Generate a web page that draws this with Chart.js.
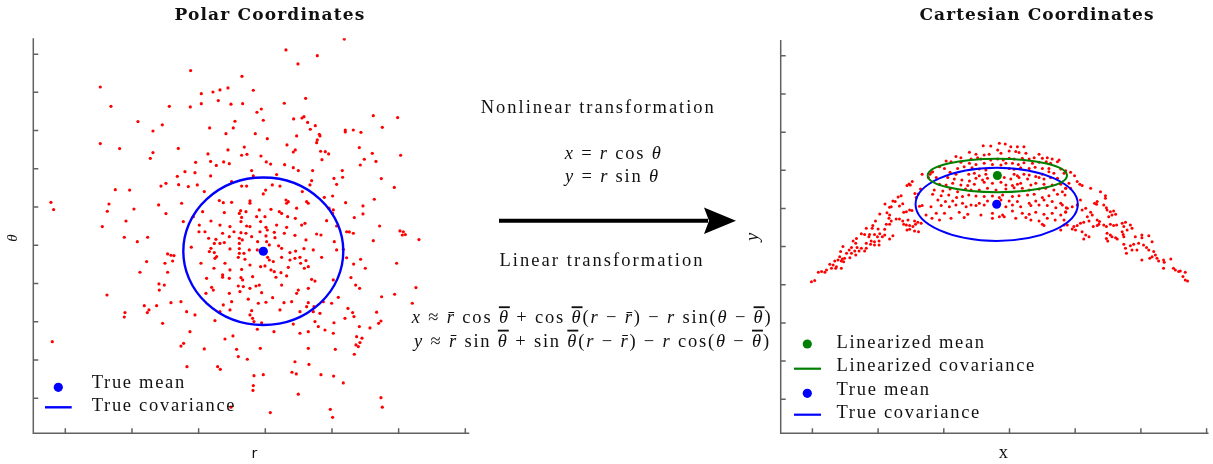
<!DOCTYPE html>
<html>
<head>
<meta charset="utf-8">
<script src="https://cdn.jsdelivr.net/npm/chart.js@4.4.1/dist/chart.umd.min.js"></script>
<style>
  html, body { margin: 0; padding: 0; background: #fff; }
  #page { position: relative; width: 1213px; height: 464px; overflow: hidden; }
  .panel { position: absolute; top: 0; }
  #polarBox { left: 0; }
  #cartBox { left: 760px; }
  #notes { position: absolute; left: 0; top: 0; }
  #notes .v { font-style: italic; }
  #notes .bar { font-style: italic; text-decoration: overline; }
</style>
</head>
<body>
<div id="page">
  <div class="panel" id="polarBox"><canvas id="polarChart" width="480" height="464"></canvas></div>
  <div class="panel" id="cartBox"><canvas id="cartChart" width="453" height="464"></canvas></div>
  <svg id="notes" width="1213" height="464" font-family="'Liberation Serif', serif" font-size="18.5" fill="#111">
    <text x="270" y="20" text-anchor="middle" font-family="'DejaVu Serif', serif" font-weight="bold" font-size="17" data-w="190">Polar Coordinates</text>
    <text x="1037" y="20" text-anchor="middle" font-family="'DejaVu Serif', serif" font-weight="bold" font-size="17" data-w="234">Cartesian Coordinates</text>

    <text x="598.3" y="112.7" text-anchor="middle" data-w="233">Nonlinear transformation</text>
    <text x="613.7" y="158.7" text-anchor="middle" data-w="96"><tspan class="v">x</tspan> = <tspan class="v">r</tspan> cos <tspan class="v">θ</tspan></text>
    <text x="612.5" y="182" text-anchor="middle" data-w="93"><tspan class="v">y</tspan> = <tspan class="v">r</tspan> sin <tspan class="v">θ</tspan></text>

    <line x1="499" y1="220.7" x2="708" y2="220.7" stroke="#000" stroke-width="4"/>
    <polygon points="704,207.5 736,220.7 704,234 709,220.7" fill="#000"/>

    <text x="602" y="265.7" text-anchor="middle" data-w="203">Linear transformation</text>
    <text x="592.2" y="323.3" text-anchor="middle" data-w="359"><tspan class="v">x</tspan> ≈ <tspan class="v">r&#x304;</tspan> cos <tspan class="bar">θ</tspan> + cos <tspan class="bar">θ</tspan>(<tspan class="v">r</tspan> − <tspan class="v">r&#x304;</tspan>) − <tspan class="v">r</tspan> sin(<tspan class="v">θ</tspan> − <tspan class="bar">θ</tspan>)</text>
    <text x="592.5" y="346.7" text-anchor="middle" data-w="355"><tspan class="v">y</tspan> ≈ <tspan class="v">r&#x304;</tspan> sin <tspan class="bar">θ</tspan> + sin <tspan class="bar">θ</tspan>(<tspan class="v">r</tspan> − <tspan class="v">r&#x304;</tspan>) − <tspan class="v">r</tspan> cos(<tspan class="v">θ</tspan> − <tspan class="bar">θ</tspan>)</text>

    <text x="254.3" y="458" text-anchor="middle" font-family="'DejaVu Sans', sans-serif" font-size="14">r</text>
    <text transform="translate(16.5,238) rotate(-90)" text-anchor="middle" font-style="italic" font-size="15">θ</text>
    <text x="1003.3" y="458" text-anchor="middle">x</text>
    <text transform="translate(758,237) rotate(-90)" text-anchor="middle" font-style="italic">y</text>
  </svg>
</div>

<script>
// Samples in polar coordinates (r, theta)
const polarR = [
  0.759, 0.789, 0.959, 1.099, 1.142, 1.231, 0.836, 0.964, 1.034, 0.899,
  1.139, 1.206, 1.232, 1.214, 0.769, 0.796, 0.929, 0.944, 1.021, 1.044,
  1.134, 0.817, 1.001, 0.994, 1.111, 1.177, 1.202, 1.062, 1.069, 1.064,
  0.749, 0.862, 0.874, 0.899, 0.954, 0.954, 1.094, 1.124, 1.129, 1.241,
  0.926, 0.922, 0.942, 0.982, 1.017, 1.042, 1.049, 1.191, 1.204, 1.202,
  0.812, 0.877, 0.784, 0.929, 0.974, 0.999, 0.927, 0.986, 1.067, 1.090,
  1.184, 0.754, 0.837, 0.864, 0.894, 0.944, 0.954, 1.034, 1.002, 1.006,
  1.064, 1.109, 1.119, 1.214, 0.802, 0.801, 0.819, 0.872, 0.906, 0.927,
  0.942, 0.984, 1.027, 1.057, 1.154, 1.167, 1.244, 0.830, 0.852, 0.892,
  0.922, 0.931, 0.959, 0.977, 1.002, 1.029, 1.089, 1.122, 1.207, 0.847,
  0.864, 0.877, 0.922, 1.004, 1.012, 1.040, 0.778, 0.837, 0.894, 0.922,
  0.952, 0.976, 1.049, 1.091, 1.116, 1.144, 1.214, 1.234, 0.832, 0.847,
  0.922, 0.936, 1.074, 1.007, 1.012, 0.849, 0.854, 0.919, 0.939, 1.024,
  1.049, 1.074, 1.089, 1.104, 1.122, 1.169, 1.244, 0.807, 0.879, 0.954,
  0.986, 0.999, 1.106, 1.129, 1.117, 0.846, 0.894, 0.929, 1.017, 1.069,
  1.027, 1.047, 0.872, 0.872, 0.824, 0.892, 0.927, 0.932, 0.962, 1.032,
  1.064, 1.139, 1.149, 1.204, 0.839, 0.844, 0.919, 0.934, 0.972, 0.982,
  1.049, 1.099, 1.094, 1.129, 0.822, 0.892, 0.924, 0.954, 0.989, 1.022,
  0.747, 0.874, 0.899, 0.949, 0.979, 1.002, 1.056, 1.079, 1.129, 1.124,
  1.146, 1.174, 1.199, 1.219, 0.764, 0.789, 0.864, 0.894, 0.959, 1.044,
  1.104, 1.144, 1.164, 0.954, 0.849, 0.962, 0.966, 0.989, 1.084, 1.149,
  1.159, 1.206, 1.239, 0.774, 0.976, 1.026, 1.104, 1.129, 1.179, 1.204,
  0.776, 0.930, 0.505, 0.808, 0.843, 0.864, 0.888, 0.537, 0.712, 0.775,
  0.808, 0.859, 0.897, 0.932, 0.618, 0.691, 0.909, 0.663, 0.833, 0.904,
  0.882, 0.505, 0.563, 0.663, 0.739, 0.888, 0.937, 0.655, 0.828, 0.929,
  0.945, 0.791, 0.836, 0.875, 0.892, 0.853, 0.736, 0.550, 0.593, 0.687,
  0.702, 0.740, 0.357, 0.365, 0.531, 0.606, 0.680, 0.526, 0.702, 0.582,
  0.511, 1.237, 1.062, 1.156, 1.098, 0.964, 1.057, 1.121, 0.975, 0.988,
  0.994, 1.085, 1.110, 1.116, 1.127, 1.150, 0.970, 1.006, 1.135, 1.094,
  1.162, 1.164, 1.065, 1.156, 1.154, 1.240, 1.240, 1.264, 1.287, 1.324,
  1.351, 1.397, 0.987, 1.003, 1.016, 1.058, 1.084, 1.090, 1.084, 1.166,
  1.180, 1.190, 1.170, 1.282, 1.297, 1.285, 1.321, 1.332, 1.406, 1.348,
  1.387, 1.327, 1.293, 1.293, 1.267, 1.343, 1.404, 1.414, 1.420, 1.411,
  1.461, 1.324, 1.264, 1.252, 1.394, 1.286, 1.300, 1.265, 1.257, 1.271,
  1.283, 1.452, 1.388, 1.349, 1.441, 1.248, 1.262, 1.266, 1.334, 1.347,
  1.340, 1.314, 1.282, 1.274, 1.290, 1.284, 1.272, 1.279, 1.267, 0.985,
  1.129, 1.210, 1.089, 1.131, 1.080, 1.093, 0.966, 0.994, 1.167, 1.205,
  1.234, 0.964, 0.963, 1.099, 1.347, 1.351, 1.015, 1.195, 1.202, 0.577,
  0.616, 0.647, 0.707, 0.717, 0.726, 0.644, 0.722, 0.699, 0.624, 0.707,
  0.681, 0.697, 0.682, 0.525, 0.637, 0.646, 0.651, 0.674, 0.579, 0.577,
  0.692, 0.717, 0.361, 0.747, 0.755, 0.817, 0.765, 0.857, 0.865, 0.879,
  0.903, 0.914, 0.919, 0.946, 0.897
];
const polarTheta = [
  1.985, 1.980, 1.991, 1.991, 1.991, 1.991, 1.963, 1.963, 1.970, 1.933,
  1.938, 1.950, 1.956, 1.919, 1.907, 1.916, 1.910, 1.910, 1.916, 1.910,
  1.916, 1.881, 1.889, 1.869, 1.881, 1.851, 1.858, 1.837, 1.828, 1.820,
  1.820, 1.834, 1.823, 1.825, 1.832, 1.820, 1.794, 1.828, 1.820, 1.823,
  1.781, 1.767, 1.776, 1.785, 1.788, 1.776, 1.767, 1.794, 1.785, 1.767,
  1.776, 1.771, 1.750, 1.746, 1.750, 1.750, 1.724, 1.724, 1.750, 1.741,
  1.729, 1.724, 1.727, 1.706, 1.698, 1.701, 1.698, 1.706, 1.694, 1.680,
  1.694, 1.706, 1.715, 1.701, 1.706, 1.671, 1.671, 1.663, 1.671, 1.666,
  1.663, 1.671, 1.668, 1.663, 1.659, 1.654, 1.671, 1.637, 1.631, 1.645,
  1.637, 1.628, 1.645, 1.619, 1.649, 1.640, 1.652, 1.628, 1.619, 1.610,
  1.610, 1.614, 1.610, 1.619, 1.602, 1.597, 1.590, 1.584, 1.581, 1.583,
  1.576, 1.576, 1.584, 1.570, 1.583, 1.576, 1.576, 1.579, 1.567, 1.562,
  1.558, 1.558, 1.562, 1.537, 1.523, 1.532, 1.541, 1.537, 1.527, 1.515,
  1.537, 1.523, 1.532, 1.537, 1.520, 1.537, 1.535, 1.506, 1.506, 1.497,
  1.488, 1.492, 1.506, 1.488, 1.480, 1.480, 1.471, 1.474, 1.471, 1.485,
  1.462, 1.457, 1.445, 1.433, 1.427, 1.427, 1.431, 1.419, 1.436, 1.433,
  1.440, 1.422, 1.413, 1.419, 1.380, 1.366, 1.387, 1.384, 1.387, 1.392,
  1.392, 1.366, 1.349, 1.375, 1.349, 1.349, 1.358, 1.375, 1.352, 1.326,
  1.305, 1.288, 1.305, 1.318, 1.297, 1.302, 1.300, 1.305, 1.300, 1.279,
  1.279, 1.305, 1.297, 1.328, 1.253, 1.236, 1.253, 1.262, 1.258, 1.262,
  1.253, 1.253, 1.244, 1.236, 1.206, 1.218, 1.201, 1.195, 1.188, 1.201,
  1.175, 1.195, 1.218, 1.148, 1.161, 1.148, 1.140, 1.148, 1.157, 1.140,
  2.514, 2.484, 2.428, 2.393, 2.402, 2.413, 2.423, 2.327, 2.327, 2.324,
  2.341, 2.357, 2.338, 2.341, 2.247, 2.230, 2.249, 2.198, 2.214, 2.214,
  2.184, 2.132, 2.106, 2.085, 2.107, 2.099, 2.114, 2.055, 2.078, 2.071,
  2.076, 2.034, 2.039, 2.036, 2.027, 2.018, 1.961, 1.891, 1.889, 1.910,
  1.924, 1.917, 1.825, 1.787, 1.816, 1.790, 1.811, 1.778, 1.766, 1.727,
  1.698, 2.679, 2.622, 2.592, 2.549, 2.411, 2.343, 2.369, 2.296, 2.313,
  2.254, 2.261, 2.266, 2.273, 2.243, 2.226, 2.184, 2.158, 2.207, 2.172,
  2.181, 2.172, 2.125, 2.151, 2.137, 2.203, 2.193, 2.203, 2.191, 2.278,
  2.217, 2.268, 2.067, 2.036, 2.025, 2.022, 2.006, 2.099, 2.088, 2.092,
  2.090, 2.078, 2.048, 2.111, 2.050, 2.020, 2.081, 2.039, 2.071, 1.949,
  1.903, 1.841, 1.806, 1.764, 1.745, 1.701, 1.675, 1.671, 1.656, 1.654,
  1.630, 1.624, 1.663, 1.670, 1.506, 1.527, 1.480, 1.502, 1.431, 1.392,
  1.375, 1.379, 1.344, 1.331, 1.297, 1.270, 1.248, 1.227, 1.250, 1.204,
  1.192, 1.168, 1.175, 1.122, 1.114, 1.091, 1.079, 1.070, 1.030, 1.061,
  1.061, 1.056, 0.991, 0.977, 0.936, 0.927, 0.918, 0.923, 0.923, 0.916,
  0.880, 0.866, 0.841, 0.821, 0.803, 0.753, 0.725, 0.742, 0.700, 1.642,
  1.619, 1.642, 1.555, 1.548, 1.546, 1.515, 1.518, 1.506, 1.459, 1.459,
  1.398, 1.392, 1.366, 1.340, 1.284, 1.248, 1.262, 1.284, 1.248, 1.225,
  1.192, 1.300, 1.096, 1.073, 1.087, 1.058, 0.965, 0.965, 0.951, 1.110,
  1.126, 1.056, 1.018, 1.004, 0.753
];
const polarRTicks = [0.4, 0.6, 0.8, 1.0, 1.2, 1.4, 1.6];
const polarThetaTicks = [0.8, 1.0, 1.2, 1.4, 1.6, 1.8, 2.0, 2.2, 2.4, 2.6];
const polarMean = [0.994, 1.569];
const polarCovRadii = [0.240, 0.386];

// The same samples after x = r cos(theta), y = r sin(theta)
const cartX = [
  -0.266, -0.242, -0.237, -0.247, -0.296, -0.306, -0.312, -0.302, -0.271, -0.288,
  -0.278, -0.284, -0.339, -0.330, -0.355, -0.348, -0.335, -0.325, -0.379, -0.365,
  -0.360, -0.274, -0.266, -0.395, -0.373, -0.365, -0.322, -0.314, -0.304, -0.297,
  -0.367, -0.360, -0.254, -0.408, -0.345, -0.335, -0.325, -0.309, -0.289, -0.279,
  -0.269, -0.416, -0.375, -0.365, -0.322, -0.314, -0.304, -0.294, -0.286, -0.436,
  -0.418, -0.400, -0.380, -0.312, -0.304, -0.289, -0.277, -0.451, -0.441, -0.426,
  -0.411, -0.395, -0.380, -0.355, -0.466, -0.428, -0.402, -0.387, -0.365, -0.476,
  -0.421, -0.411, -0.397, -0.468, -0.436, -0.423, -0.411, -0.397, -0.507, -0.481,
  -0.464, -0.451, -0.436, -0.488, -0.471, -0.458, -0.441, -0.514, -0.496, -0.481,
  -0.468, -0.517, -0.509, -0.502, -0.486, -0.532, -0.522, -0.512, -0.505, -0.547,
  -0.537, -0.527, -0.512, -0.557, -0.542, -0.529, -0.572, -0.562, -0.582, -0.593,
  -0.603,
  -0.031, -0.013, -0.080, -0.057, 0.004, 0.024, 0.044, -0.122, -0.102, -0.077,
  -0.062, -0.036, -0.026, -0.001, 0.019, 0.029, 0.050, 0.090, -0.163, -0.148,
  -0.117, -0.097, -0.087, -0.057, -0.036, -0.019, -0.001, 0.014, 0.039, 0.060,
  0.075, 0.100, 0.115, 0.130, 0.151, -0.193, -0.178, -0.148, -0.122, -0.102,
  -0.077, -0.052, -0.026, -0.011, 0.009, 0.027, 0.044, 0.070, 0.090, 0.112,
  0.125, 0.146, -0.213, -0.198, -0.158, -0.138, -0.114, -0.092, -0.072, -0.001,
  0.014, 0.034, 0.060, 0.078, 0.100, 0.120, 0.156, -0.234, -0.181, -0.163,
  -0.124, -0.107, -0.092, -0.072, 0.014, 0.024, 0.044, 0.060, 0.080, 0.100,
  0.120, 0.135, 0.166, -0.223, -0.188, -0.168, -0.145, -0.122, -0.102, -0.082,
  -0.067, -0.016, 0.004, 0.029, 0.055, 0.090, 0.105, 0.125, 0.146, -0.213,
  -0.193, -0.173, -0.148, -0.127, -0.107, -0.077, -0.052, -0.026, -0.011, 0.009,
  0.024, 0.034, 0.065, 0.080, 0.105, 0.130, 0.156, -0.229, -0.203, -0.181,
  -0.158, -0.134, -0.117, -0.092, -0.067, -0.041, -0.011, 0.014, 0.039, 0.060,
  0.090, 0.110, 0.135, 0.161, 0.171, -0.234, -0.208, -0.185, -0.161, -0.143,
  -0.124, -0.102, -0.077, -0.052, -0.031, -0.021, 0.009, 0.029, 0.055, 0.075,
  0.100, 0.120, 0.146, 0.169, -0.218, -0.195, -0.173, -0.143, -0.117, -0.092,
  -0.067, -0.026, -0.001, 0.024, 0.060, 0.080, 0.105, 0.130, 0.156, -0.239,
  -0.208, -0.183, -0.163, -0.132, -0.102, -0.077, -0.011, 0.009, 0.034, 0.065,
  0.090, 0.115, 0.141, 0.161, 0.173, -0.223, -0.198, -0.153, -0.127, -0.087,
  -0.052, -0.021, 0.009, 0.039, 0.060, 0.080, 0.105, 0.130, 0.156, 0.171,
  -0.236, -0.213, -0.178, -0.138, -0.052, -0.031, -0.016, 0.019, 0.050, 0.065,
  0.090, 0.115, 0.139, 0.166, 0.100, 0.105, 0.166, 0.156,
  0.171, 0.186, 0.198, 0.206, 0.214, 0.181, 0.171, 0.186, 0.221, 0.247,
  0.277, 0.292, 0.292, 0.267, 0.259, 0.265, 0.216, 0.206, 0.191, 0.176,
  0.171, 0.287, 0.295, 0.297, 0.307, 0.317, 0.312, 0.302, 0.323, 0.232,
  0.221, 0.247, 0.252, 0.237, 0.242, 0.226, 0.216, 0.206, 0.196, 0.191,
  0.201, 0.176, 0.267, 0.274, 0.272, 0.267, 0.255, 0.287, 0.295, 0.307,
  0.317, 0.326, 0.343, 0.353, 0.348, 0.368, 0.373, 0.358, 0.297, 0.307,
  0.312, 0.323, 0.328, 0.295, 0.299, 0.343, 0.346, 0.348, 0.221, 0.232,
  0.242, 0.226, 0.383, 0.403, 0.403, 0.424, 0.434, 0.393, 0.378, 0.368,
  0.353, 0.348, 0.356, 0.373, 0.388, 0.408, 0.417, 0.424, 0.439, 0.444,
  0.434, 0.427, 0.449, 0.454, 0.469, 0.471, 0.491, 0.403, 0.469, 0.499,
  0.505, 0.515, 0.520, 0.535, 0.528, 0.535, 0.542
];
const cartY = [
  0.979, 0.979, 0.990, 0.962, 0.941, 0.928, 0.920, 0.923, 0.902, 0.879,
  0.876, 0.857, 0.860, 0.867, 0.839, 0.836, 0.813, 0.825, 0.823, 0.806,
  0.809, 0.811, 0.815, 0.771, 0.778, 0.766, 0.780, 0.783, 0.792, 0.789,
  0.748, 0.734, 0.766, 0.734, 0.745, 0.745, 0.734, 0.740, 0.734, 0.727,
  0.722, 0.710, 0.717, 0.717, 0.717, 0.713, 0.710, 0.705, 0.717, 0.696,
  0.696, 0.692, 0.691, 0.687, 0.691, 0.682, 0.678, 0.668, 0.664, 0.664,
  0.664, 0.668, 0.661, 0.657, 0.643, 0.652, 0.652, 0.652, 0.640, 0.630,
  0.630, 0.626, 0.630, 0.617, 0.617, 0.612, 0.609, 0.609, 0.600, 0.595,
  0.595, 0.591, 0.591, 0.582, 0.577, 0.577, 0.577, 0.574, 0.565, 0.565,
  0.556, 0.547, 0.535, 0.539, 0.542, 0.525, 0.530, 0.525, 0.521, 0.507,
  0.504, 0.495, 0.486, 0.477, 0.486, 0.486, 0.469, 0.465, 0.465, 0.422,
  0.416,
  1.142, 1.138, 1.129, 1.128, 1.124, 1.124, 1.124, 1.094, 1.084, 1.080,
  1.084, 1.107, 1.089, 1.101, 1.098, 1.093, 1.089, 1.084, 1.072, 1.066,
  1.059, 1.066, 1.059, 1.054, 1.059, 1.054, 1.063, 1.059, 1.063, 1.059,
  1.066, 1.063, 1.066, 1.059, 1.054, 1.049, 1.045, 1.042, 1.037, 1.031,
  1.037, 1.031, 1.028, 1.037, 1.037, 1.031, 1.040, 1.037, 1.042, 1.045,
  1.037, 1.045, 1.019, 1.010, 1.010, 1.019, 1.014, 1.007, 1.002, 1.010,
  1.005, 1.014, 1.010, 1.016, 1.010, 1.010, 1.007, 0.993, 0.990, 0.979,
  0.979, 0.984, 0.972, 0.979, 0.979, 0.972, 0.979, 0.976, 0.967, 0.979,
  0.993, 0.984, 0.984, 0.962, 0.962, 0.955, 0.949, 0.944, 0.958, 0.949,
  0.958, 0.962, 0.955, 0.962, 0.955, 0.962, 0.955, 0.962, 0.958, 0.927,
  0.923, 0.932, 0.923, 0.920, 0.927, 0.937, 0.932, 0.937, 0.923, 0.920,
  0.927, 0.932, 0.923, 0.932, 0.927, 0.923, 0.927, 0.897, 0.892, 0.902,
  0.888, 0.902, 0.897, 0.897, 0.906, 0.897, 0.902, 0.909, 0.906, 0.897,
  0.902, 0.906, 0.897, 0.888, 0.906, 0.874, 0.867, 0.871, 0.857, 0.862,
  0.871, 0.865, 0.862, 0.865, 0.857, 0.871, 0.862, 0.867, 0.871, 0.874,
  0.857, 0.867, 0.874, 0.871, 0.844, 0.836, 0.839, 0.827, 0.818, 0.827,
  0.839, 0.844, 0.839, 0.836, 0.827, 0.839, 0.844, 0.836, 0.827, 0.809,
  0.815, 0.809, 0.818, 0.809, 0.815, 0.818, 0.809, 0.818, 0.809, 0.815,
  0.818, 0.815, 0.804, 0.818, 0.804, 0.775, 0.775, 0.780, 0.769, 0.766,
  0.775, 0.766, 0.787, 0.775, 0.769, 0.780, 0.769, 0.775, 0.766, 0.780,
  0.748, 0.740, 0.748, 0.752, 0.748, 0.757, 0.757, 0.748, 0.752, 0.740,
  0.734, 0.748, 0.740, 0.740, 0.717, 0.710, 0.713, 0.687,
  0.997, 0.990, 0.972, 0.941, 0.927, 0.932, 0.906, 0.906, 0.920, 0.906,
  0.888, 0.867, 0.853, 0.836, 0.827, 0.822, 0.844, 0.818, 0.809, 0.801,
  0.783, 0.818, 0.804, 0.792, 0.783, 0.787, 0.766, 0.757, 0.769, 0.801,
  0.792, 0.780, 0.766, 0.757, 0.734, 0.727, 0.722, 0.710, 0.705, 0.692,
  0.687, 0.713, 0.740, 0.731, 0.717, 0.710, 0.705, 0.713, 0.705, 0.717,
  0.710, 0.713, 0.722, 0.727, 0.705, 0.713, 0.696, 0.687, 0.670, 0.661,
  0.652, 0.647, 0.640, 0.643, 0.630, 0.678, 0.664, 0.652, 0.678, 0.661,
  0.652, 0.640, 0.652, 0.661, 0.647, 0.657, 0.626, 0.617, 0.612, 0.605,
  0.591, 0.612, 0.565, 0.582, 0.582, 0.609, 0.595, 0.582, 0.574, 0.556,
  0.547, 0.539, 0.539, 0.525, 0.530, 0.518, 0.535, 0.530, 0.486, 0.486,
  0.477, 0.469, 0.472, 0.465, 0.443, 0.425, 0.420
];
const cartXTicks = [-0.6, -0.4, -0.2, 0, 0.2, 0.4, 0.6];
const cartYTicks = [-0.2, 0, 0.2, 0.4, 0.6, 0.8, 1.0, 1.2, 1.4, 1.6];
const linearizedMean = [-0.037, 0.973];
const linearizedCovRadii = [0.212, 0.088];
const cartTrueMean = [-0.039, 0.822];
const cartTrueCovRadii = [0.247, 0.192];

const RED = '#ff0000';
const BLUE = '#0000ff';
const GREEN = '#008000';

// spread each annotation line to its set width, keeping r̄ as one character
document.querySelectorAll('#notes text[data-w]').forEach(t => {
  const natural = t.getComputedTextLength();
  const chars = [...t.textContent.replace(/\u0304/g, '')].length;
  const gap = (Number(t.dataset.w) - natural) / (chars - 1);
  t.style.letterSpacing = gap.toFixed(2) + 'px';
});

// axes with inward ticks, covariance ellipses and the in-plot legend
function makeDecor(cfg) {
  return {
    id: 'decor',
    beforeDatasetsDraw(chart) {
      const { ctx, chartArea: a, scales: { x, y } } = chart;
      ctx.save();
      ctx.strokeStyle = '#616161';
      ctx.lineWidth = 1.5;
      ctx.beginPath();
      ctx.moveTo(a.left, a.top);
      ctx.lineTo(a.left, a.bottom);
      ctx.lineTo(a.right, a.bottom);
      cfg.xTicks.forEach(v => {
        const px = x.getPixelForValue(v);
        ctx.moveTo(px, a.bottom);
        ctx.lineTo(px, a.bottom - 5);
      });
      cfg.yTicks.forEach(v => {
        const py = y.getPixelForValue(v);
        ctx.moveTo(a.left, py);
        ctx.lineTo(a.left + 5, py);
      });
      ctx.stroke();
      ctx.restore();
    },
    afterDatasetDraw(chart, args) {
      if (args.index !== 0) return;
      const { ctx, scales: { x, y } } = chart;
      cfg.ellipses.forEach(e => {
        const cx = x.getPixelForValue(e.center[0]);
        const cy = y.getPixelForValue(e.center[1]);
        const rx = Math.abs(x.getPixelForValue(e.center[0] + e.radii[0]) - cx);
        const ry = Math.abs(y.getPixelForValue(e.center[1] + e.radii[1]) - cy);
        ctx.save();
        ctx.strokeStyle = e.color;
        ctx.lineWidth = e.width;
        ctx.beginPath();
        ctx.ellipse(cx, cy, rx, ry, 0, 0, Math.PI * 2);
        ctx.stroke();
        ctx.restore();
      });
    },
    afterDraw(chart) {
      const { ctx, chartArea: a } = chart;
      const L = cfg.legend;
      ctx.save();
      ctx.font = '18.5px "Liberation Serif"';
      ctx.letterSpacing = '1.7px';
      ctx.textBaseline = 'alphabetic';
      L.items.forEach(it => {
        const my = a.bottom + it.markY;
        if (it.kind === 'dot') {
          ctx.fillStyle = it.color;
          ctx.beginPath();
          ctx.arc(a.left + L.dotX, my, 4.6, 0, Math.PI * 2);
          ctx.fill();
        } else {
          ctx.strokeStyle = it.color;
          ctx.lineWidth = it.width;
          ctx.beginPath();
          ctx.moveTo(a.left + L.lineX[0], my);
          ctx.lineTo(a.left + L.lineX[1], my);
          ctx.stroke();
        }
        ctx.fillStyle = '#111';
        ctx.fillText(it.label, a.left + L.textX, a.bottom + it.textY);
      });
      ctx.restore();
    }
  };
}

function points(xs, ys) {
  return xs.map((v, i) => ({ x: v, y: ys[i] }));
}

function panelOptions(padding, xRange, yRange) {
  return {
    responsive: false,
    animation: false,
    events: [],
    layout: { padding },
    plugins: { legend: { display: false }, tooltip: { enabled: false } },
    scales: {
      x: { type: 'linear', display: false, min: xRange[0], max: xRange[1] },
      y: { type: 'linear', display: false, min: yRange[0], max: yRange[1] }
    }
  };
}

new Chart(document.getElementById('polarChart'), {
  type: 'scatter',
  data: {
    datasets: [
      { data: points(polarR, polarTheta), backgroundColor: RED, pointRadius: 1.6, pointBorderWidth: 0 },
      { data: [{ x: polarMean[0], y: polarMean[1] }], backgroundColor: BLUE, pointRadius: 4.6, pointBorderWidth: 0 }
    ]
  },
  options: panelOptions({ left: 33.3, top: 38.3, right: 10.7, bottom: 30.7 }, [0.304, 1.612], [0.6166, 2.6828]),
  plugins: [makeDecor({
    xTicks: polarRTicks,
    yTicks: polarThetaTicks,
    ellipses: [{ center: polarMean, radii: polarCovRadii, color: BLUE, width: 2.4 }],
    legend: {
      dotX: 25, lineX: [11.7, 38.4], textX: 58.4,
      items: [
        { kind: 'dot', color: BLUE, label: 'True mean', markY: -46, textY: -45 },
        { kind: 'line', color: BLUE, width: 2.4, label: 'True covariance', markY: -26, textY: -22.3 }
      ]
    }
  })]
});

new Chart(document.getElementById('cartChart'), {
  type: 'scatter',
  data: {
    datasets: [
      { data: points(cartX, cartY), backgroundColor: RED, pointRadius: 1.5, pointBorderWidth: 0 },
      { data: [{ x: linearizedMean[0], y: linearizedMean[1] }], backgroundColor: GREEN, pointRadius: 4.5, pointBorderWidth: 0 },
      { data: [{ x: cartTrueMean[0], y: cartTrueMean[1] }], backgroundColor: BLUE, pointRadius: 4.5, pointBorderWidth: 0 }
    ]
  },
  options: panelOptions({ left: 20.7, top: 40, right: 3, bottom: 30.7 }, [-0.6965, 0.6058], [-0.3788, 1.6831]),
  plugins: [makeDecor({
    xTicks: cartXTicks,
    yTicks: cartYTicks,
    ellipses: [
      { center: cartTrueMean, radii: cartTrueCovRadii, color: BLUE, width: 2 },
      { center: linearizedMean, radii: linearizedCovRadii, color: GREEN, width: 2 }
    ],
    legend: {
      dotX: 26.6, lineX: [13.3, 40.3], textX: 55.8,
      items: [
        { kind: 'dot', color: GREEN, label: 'Linearized mean', markY: -89.3, textY: -85 },
        { kind: 'line', color: GREEN, width: 2.2, label: 'Linearized covariance', markY: -64.6, textY: -62.3 },
        { kind: 'dot', color: BLUE, label: 'True mean', markY: -40, textY: -38 },
        { kind: 'line', color: BLUE, width: 2.2, label: 'True covariance', markY: -18.6, textY: -15 }
      ]
    }
  })]
});
</script>
</body>
</html>
